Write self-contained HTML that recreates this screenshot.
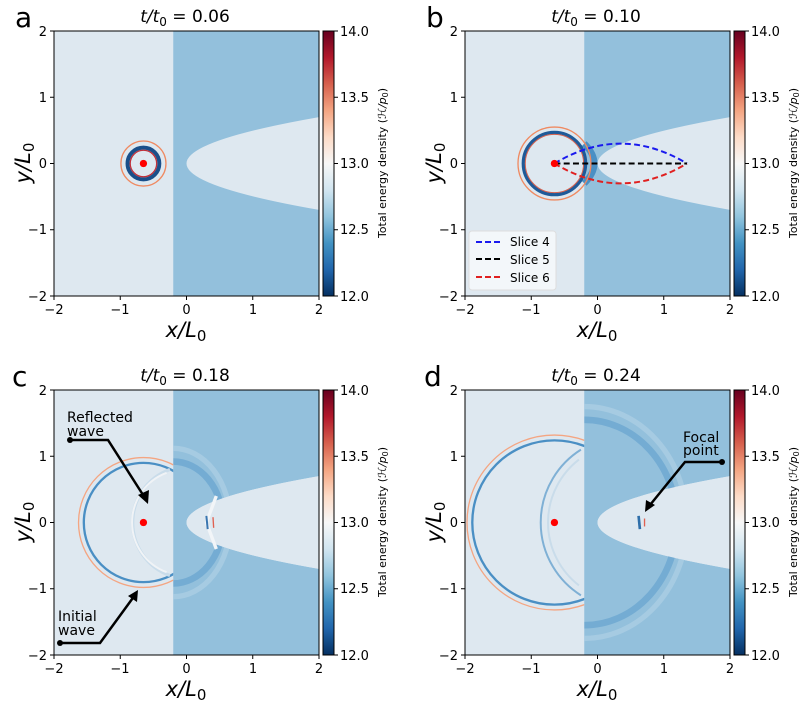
<!DOCTYPE html>
<html><head><meta charset="utf-8"><style>
body{margin:0;background:#fff;width:800px;height:702px;overflow:hidden}
svg text{font-family:"DejaVu Sans","Liberation Sans",sans-serif;fill:#000}
</style></head><body>
<svg width="800" height="702" viewBox="0 0 800 702" xmlns="http://www.w3.org/2000/svg">
<defs>
<linearGradient id="cb" x1="0" y1="1" x2="0" y2="0">
<stop offset="0" stop-color="#053061"/><stop offset="0.1" stop-color="#2166ac"/><stop offset="0.2" stop-color="#4393c3"/><stop offset="0.3" stop-color="#92c5de"/><stop offset="0.4" stop-color="#d1e5f0"/><stop offset="0.5" stop-color="#f7f7f7"/><stop offset="0.6" stop-color="#fddbc7"/><stop offset="0.7" stop-color="#f4a582"/><stop offset="0.8" stop-color="#d6604d"/><stop offset="0.9" stop-color="#b2182b"/><stop offset="1" stop-color="#67001f"/>
</linearGradient>
<clipPath id="L"><rect x="-2" y="-2" width="1.8" height="4"/></clipPath>
<clipPath id="R"><rect x="-0.2" y="-2" width="2.2" height="4"/></clipPath>
<path id="par" d="M2 0.7 Q-2 0 2 -0.7 Z" fill="#dee8f0"/>
<g id="bg">
<rect x="-2" y="-2" width="4" height="4" fill="#dee8f0"/>
<rect x="-0.2" y="-2" width="2.2" height="4" fill="#93c0dc"/>
<use href="#par"/>
</g>
<g id="axes">
<rect x="0" y="0" width="265" height="265" fill="none" stroke="#000" stroke-width="1"/>
<g stroke="#000"><line x1="0" y1="0" x2="-4" y2="0"/><line x1="0" y1="66.25" x2="-4" y2="66.25"/><line x1="0" y1="132.5" x2="-4" y2="132.5"/><line x1="0" y1="198.75" x2="-4" y2="198.75"/><line x1="0" y1="265" x2="-4" y2="265"/>
<line x1="0" y1="265" x2="0" y2="269"/><line x1="66.25" y1="265" x2="66.25" y2="269"/><line x1="132.5" y1="265" x2="132.5" y2="269"/><line x1="198.75" y1="265" x2="198.75" y2="269"/><line x1="265" y1="265" x2="265" y2="269"/></g>
<g font-size="13" text-anchor="end"><text x="-7" y="5">2</text><text x="-7" y="71">1</text><text x="-7" y="137">0</text><text x="-7" y="203">−1</text><text x="-7" y="270">−2</text></g>
<g font-size="13" text-anchor="middle"><text x="0" y="283">−2</text><text x="66" y="283">−1</text><text x="132.5" y="283">0</text><text x="199" y="283">1</text><text x="265" y="283">2</text></g>
<text x="132" y="306" font-size="21" text-anchor="middle" font-style="italic">x/L<tspan font-style="normal" font-size="15" dy="4">0</tspan></text>
<text transform="translate(-24,132) rotate(-90)" font-size="21" text-anchor="middle" font-style="italic">y/L<tspan font-style="normal" font-size="15" dy="4">0</tspan></text>
<rect x="269" y="0" width="11" height="265" fill="url(#cb)" stroke="#000"/>
<g stroke="#000"><line x1="280" y1="0" x2="284" y2="0"/><line x1="280" y1="66.25" x2="284" y2="66.25"/><line x1="280" y1="132.5" x2="284" y2="132.5"/><line x1="280" y1="198.75" x2="284" y2="198.75"/><line x1="280" y1="265" x2="284" y2="265"/></g>
<g font-size="13"><text x="286" y="5">14.0</text><text x="286" y="71">13.5</text><text x="286" y="137">13.0</text><text x="286" y="203">12.5</text><text x="286" y="270">12.0</text></g>
<text transform="translate(332,132) rotate(-90)" font-size="11" text-anchor="middle">Total energy density (<tspan font-style="italic">ℋ/p</tspan><tspan font-size="8" dy="2">0</tspan><tspan dy="-2">)</tspan></text>
</g>
</defs>

<!-- Panel a -->
<svg x="54" y="31" width="265" height="265" viewBox="-2 -2 4 4"><g transform="scale(1,-1)">
<use href="#bg"/>
<g fill="none">
<circle cx="-0.65" cy="0" r="0.34" stroke="#ef8a62" stroke-width="0.02"/>
<circle cx="-0.65" cy="0" r="0.24" stroke="#1a4f8a" stroke-width="0.06"/>
<circle cx="-0.65" cy="0" r="0.2" stroke="#c0303a" stroke-width="0.02"/>
</g>
<circle cx="-0.65" cy="0" r="0.055" fill="#f00"/>
</g></svg>
<use href="#axes" x="54" y="31"/>
<text x="15" y="27" font-size="28">a</text>
<text x="185" y="22" font-size="17" text-anchor="middle"><tspan font-style="italic">t/t</tspan><tspan font-size="12" dy="4">0</tspan><tspan dy="-4"> = 0.06</tspan></text>

<!-- Panel b -->
<svg x="465" y="31" width="265" height="265" viewBox="-2 -2 4 4"><g transform="scale(1,-1)">
<use href="#bg"/>
<g fill="none">
<path d="M-0.2 0.3 Q0.1 0 -0.2 -0.3" stroke="#4a8fc4" stroke-width="0.1"/>
<circle cx="-0.65" cy="0" r="0.55" stroke="#ef8a62" stroke-width="0.02"/>
<circle cx="-0.65" cy="0" r="0.47" stroke="#1f5a98" stroke-width="0.05"/>
<circle cx="-0.65" cy="0" r="0.44" stroke="#d6604d" stroke-width="0.015"/>
<path d="M-0.65 0 Q0.35 0.6 1.35 0" stroke="#1a1aee" stroke-width="0.03" stroke-dasharray="0.09 0.05"/>
<path d="M-0.65 0 Q0.35 -0.6 1.35 0" stroke="#e02020" stroke-width="0.03" stroke-dasharray="0.09 0.05"/>
<line x1="-0.65" y1="0" x2="1.35" y2="0" stroke="#000" stroke-width="0.03" stroke-dasharray="0.09 0.05"/>
</g>
<circle cx="-0.65" cy="0" r="0.055" fill="#f00"/>
</g></svg>
<use href="#axes" x="465" y="31"/>
<rect x="469" y="231" width="87" height="59" rx="3" fill="#f5f8fb" fill-opacity="0.9" stroke="#ddd"/>
<g stroke-width="2" stroke-dasharray="6 3"><line x1="476" y1="242" x2="500" y2="242" stroke="#1a1aee"/><line x1="476" y1="259" x2="500" y2="259" stroke="#000"/><line x1="476" y1="277" x2="500" y2="277" stroke="#e02020"/></g>
<g font-size="12"><text x="510" y="246">Slice 4</text><text x="510" y="264">Slice 5</text><text x="510" y="282">Slice 6</text></g>
<text x="426" y="27" font-size="28">b</text>
<text x="596" y="22" font-size="17" text-anchor="middle"><tspan font-style="italic">t/t</tspan><tspan font-size="12" dy="4">0</tspan><tspan dy="-4"> = 0.10</tspan></text>

<!-- Panel c -->
<svg x="54" y="390" width="265" height="265" viewBox="-2 -2 4 4"><g transform="scale(1,-1)">
<use href="#bg"/>
<g fill="none" clip-path="url(#R)">
<path d="M-0.2 1.12 A0.86 1.12 0 0 0 -0.2 -1.12" stroke="#a6cbe2" stroke-width="0.08"/>
<path d="M-0.2 0.92 A0.75 0.92 0 0 0 -0.2 -0.92" stroke="#74acd3" stroke-width="0.1"/>
</g>
<use href="#par"/>
<g fill="none">
<path d="M0.45 0.4 L0.3 0 L0.45 -0.4" stroke="#f2f5f8" stroke-width="0.05"/>
<path d="M0.3 0.1 L0.32 -0.1" stroke="#3a76b0" stroke-width="0.03"/>
<path d="M0.4 0.08 L0.41 -0.08" stroke="#e06050" stroke-width="0.02"/>
</g>
<g fill="none" clip-path="url(#L)">
<circle cx="-0.65" cy="0" r="0.98" stroke="#f4a582" stroke-width="0.02"/>
<circle cx="-0.65" cy="0" r="0.9" stroke="#4a8fc4" stroke-width="0.035"/>
<path d="M-0.25 0.8 A0.85 0.85 0 0 1 -0.25 -0.8" stroke="#c9dcea" stroke-width="0.05"/>
<path d="M-0.3 0.75 A0.8 0.8 0 0 1 -0.3 -0.75" stroke="#f0f3f6" stroke-width="0.03"/>
</g>
<circle cx="-0.65" cy="0" r="0.055" fill="#f00"/>
</g></svg>
<use href="#axes" x="54" y="390"/>
<text x="12" y="386" font-size="28">c</text>
<text x="185" y="381" font-size="17" text-anchor="middle"><tspan font-style="italic">t/t</tspan><tspan font-size="12" dy="4">0</tspan><tspan dy="-4"> = 0.18</tspan></text>
<g font-size="14"><text x="67" y="422">Reflected</text><text x="67" y="436">wave</text><text x="58" y="621">Initial</text><text x="58" y="635">wave</text></g>
<g stroke="#000" stroke-width="2.5" fill="none"><polyline points="70,440 108,440 145,498"/><polyline points="60,643 100,643 135,595"/></g>
<polygon points="148,504 138,495 149,490" fill="#000"/><polygon points="138,590 137,602 128,596" fill="#000"/>
<circle cx="70" cy="440" r="3" fill="#000"/><circle cx="60" cy="643" r="3" fill="#000"/>

<!-- Panel d -->
<svg x="465" y="390" width="265" height="265" viewBox="-2 -2 4 4"><g transform="scale(1,-1)">
<use href="#bg"/>
<g fill="none" clip-path="url(#R)">
<path d="M-0.2 1.75 A1.55 1.75 0 0 0 -0.2 -1.75" stroke="#a6cbe2" stroke-width="0.08"/>
<path d="M-0.2 1.55 A1.4 1.55 0 0 0 -0.2 -1.55" stroke="#74acd3" stroke-width="0.1"/>
</g>
<use href="#par"/>
<g fill="none">
<path d="M0.62 0.1 L0.64 -0.1" stroke="#2f6faa" stroke-width="0.04"/>
<path d="M0.71 0.06 L0.71 -0.06" stroke="#e06050" stroke-width="0.02"/>
</g>
<g fill="none" clip-path="url(#L)">
<circle cx="-0.65" cy="0" r="1.32" stroke="#f4a582" stroke-width="0.02"/>
<circle cx="-0.65" cy="0" r="1.24" stroke="#4a8fc4" stroke-width="0.035"/>
<path d="M-0.25 1.1 A1.3 1.3 0 0 1 -0.25 -1.1" stroke="#7fb0d5" stroke-width="0.03"/>
<path d="M-0.28 0.95 A1.2 1.2 0 0 1 -0.28 -0.95" stroke="#c9dcea" stroke-width="0.03"/>
</g>
<circle cx="-0.65" cy="0" r="0.055" fill="#f00"/>
</g></svg>
<use href="#axes" x="465" y="390"/>
<text x="424" y="386" font-size="28">d</text>
<text x="596" y="381" font-size="17" text-anchor="middle"><tspan font-style="italic">t/t</tspan><tspan font-size="12" dy="4">0</tspan><tspan dy="-4"> = 0.24</tspan></text>
<g font-size="14"><text x="683" y="442">Focal</text><text x="683" y="455">point</text></g>
<polyline points="722,462 685,462 650,505" stroke="#000" stroke-width="2.5" fill="none"/>
<polygon points="645,512 646,500 655,505" fill="#000"/>
<circle cx="722" cy="462" r="3" fill="#000"/>
</svg>
</body></html>
